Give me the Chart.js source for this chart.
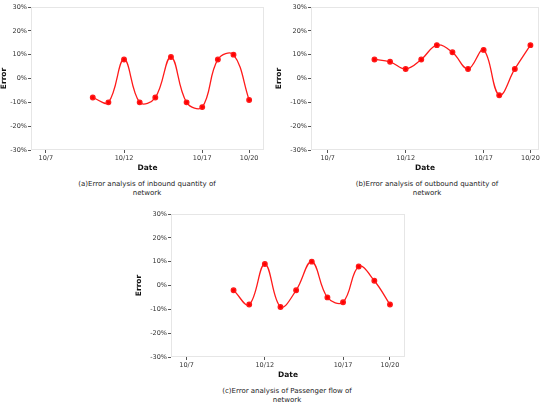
<!DOCTYPE html>
<html>
<head>
<meta charset="utf-8">
<script src="https://cdn.jsdelivr.net/npm/chart.js@4"></script>
<style>
  body { margin: 0; background: #fff; }
  #page { position: relative; width: 550px; height: 408px; overflow: hidden; }
  .box { position: absolute; }
  .cap { position: absolute; text-align: center; font-family: "DejaVu Sans", sans-serif;
         font-size: 7px; line-height: 8.5px; color: #222; }
</style>
</head>
<body>
<div id="page">
  <div class="box" style="left:0;top:0;width:275px;height:173px"><canvas id="chartA"></canvas></div>
  <div class="box" style="left:275px;top:0;width:275px;height:173px"><canvas id="chartB"></canvas></div>
  <div class="box" style="left:135px;top:207px;width:285px;height:173px"><canvas id="chartC"></canvas></div>
  <div class="cap" style="left:37px;top:180px;width:220px">(a)Error analysis of inbound quantity of<br>network</div>
  <div class="cap" style="left:317px;top:180px;width:220px">(b)Error analysis of outbound quantity of<br>network</div>
  <div class="cap" style="left:177px;top:387px;width:220px">(c)Error analysis of Passenger flow of<br>network</div>
</div>
<script>
// days of October (x values)
const days = [10, 11, 12, 13, 14, 15, 16, 17, 18, 19, 20];
const tickDays = [7, 12, 17, 20];
const yTicks = [-30, -20, -10, 0, 10, 20, 30];

// error in percent
const inboundErr = [-8, -10, 8, -10, -8, 9, -10, -12, 8, 10, -9];
const outboundErr = [8, 7, 4, 8, 14, 11, 4, 12, -7, 4, 14];
const passengerErr = [-2, -8, 9, -9, -2, 10, -5, -7, 8, 2, -8];

const frame = {
  id: 'frame',
  afterDraw(chart) {
    const a = chart.chartArea, c = chart.ctx;
    c.save();
    c.strokeStyle = '#e6e6e6';
    c.lineWidth = 1;
    c.strokeRect(a.left + 0.5, a.top + 0.5, a.right - a.left - 1, a.bottom - a.top - 1);
    c.restore();
  }
};

function makeChart(id, values, xmin, xmax, yWidth, rightPad) {
  const tickFont = { family: 'DejaVu Sans', size: 6.5 };
  const titleFont = { family: 'DejaVu Sans', size: 7.5, weight: 'bold' };
  return new Chart(document.getElementById(id), {
    type: 'line',
    data: {
      datasets: [{
        data: days.map((d, i) => ({ x: d, y: values[i] })),
        borderColor: '#ff1a1a',
        backgroundColor: '#ff0000',
        borderWidth: 1.3,
        pointRadius: 2.3,
        pointHoverRadius: 2.3,
        tension: 0.4,
        fill: false
      }]
    },
    options: {
      responsive: true,
      maintainAspectRatio: false,
      animation: false,
      layout: { padding: { top: 7, right: rightPad, left: 0, bottom: 0 } },
      plugins: { legend: { display: false }, tooltip: { enabled: false } },
      scales: {
        x: {
          type: 'linear',
          min: xmin,
          max: xmax,
          afterBuildTicks: s => { s.ticks = tickDays.map(v => ({ value: v })); },
          afterFit: s => { s.height = 23; },
          ticks: { font: tickFont, color: '#333', padding: 1, maxRotation: 0,
                   callback: v => '10/' + v },
          grid: { drawOnChartArea: false, drawTicks: true, tickLength: 3, color: '#555' },
          border: { display: false },
          title: { display: true, text: 'Date', font: titleFont, color: '#111', padding: { top: 0, bottom: 0 } }
        },
        y: {
          min: -30,
          max: 30,
          afterBuildTicks: s => { s.ticks = yTicks.map(v => ({ value: v })); },
          afterFit: s => { s.width = yWidth; },
          ticks: { font: tickFont, color: '#333', padding: 1, callback: v => v + '%' },
          grid: { drawOnChartArea: false, drawTicks: true, tickLength: 3, color: '#555' },
          border: { display: false },
          title: { display: true, text: 'Error', font: titleFont, color: '#111', padding: { top: 0, bottom: 1 } }
        }
      }
    },
    plugins: [frame]
  });
}

makeChart('chartA', inboundErr, 6.05, 20.95, 31, 11);
makeChart('chartB', outboundErr, 5.93, 20.55, 36, 11);
makeChart('chartC', passengerErr, 6.0, 20.96, 36, 15);
</script>
</body>
</html>
